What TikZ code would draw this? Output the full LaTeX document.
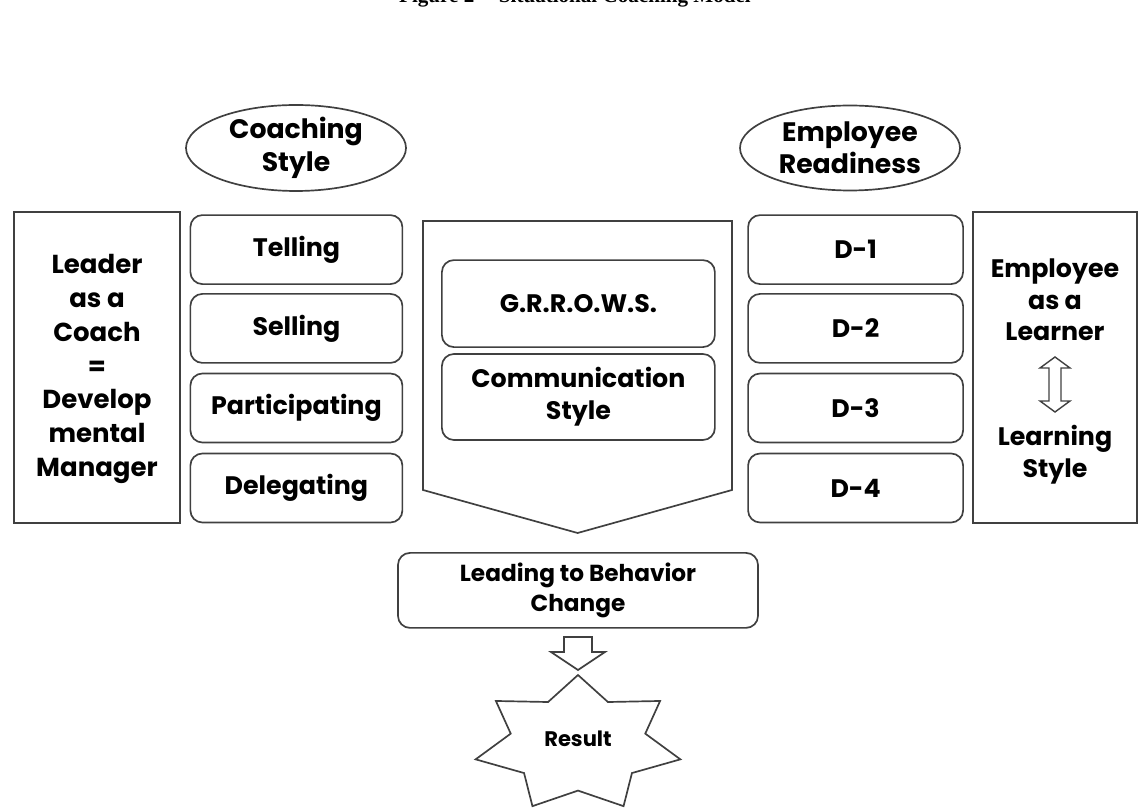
\documentclass[tikz,border=0pt]{standalone}
\usepackage{fontspec}
\newfontfamily\diagfont{Poppins}
\newfontfamily\capfont{Liberation Serif}
\usetikzlibrary{shapes.geometric}

\tikzset{
  outline/.style={draw=black!75, line width=1.2pt},
  boxtext/.style={font=\diagfont\bfseries\fontsize{18}{22.5}\selectfont, align=center},
  sidebox/.style={outline, minimum width=4.15cm, minimum height=7.775cm},
  stepbox/.style={outline, boxtext, rounded corners=0.3cm, minimum width=5.3cm, minimum height=1.725cm},
  tag/.style={outline, boxtext, ellipse, inner sep=0pt, minimum width=5.5cm, minimum height=2.125cm},
}

\begin{document}
\begin{tikzpicture}
  \useasboundingbox (0,0) rectangle (28.45,20.2);
  \clip (0,0) rectangle (28.45,20.2);

  \node[font=\capfont\bfseries\fontsize{15}{18}\selectfont, anchor=base] (title)
    at (14.375,20.14) {Figure 2 -- Situational Coaching Model};

  % headings
  \node[tag, font=\diagfont\bfseries\fontsize{19}{23}\selectfont] (cstyle)
    at (7.4,16.5) {Coaching\\Style};
  \node[tag, font=\diagfont\bfseries\fontsize{19}{23}\selectfont] (ready)
    at (21.25,16.5) {Employee\\Readiness};

  % leader side
  \node[sidebox] (leaderbox) at (2.425,11.01) {};
  \node[boxtext, font=\diagfont\bfseries\fontsize{18.5}{24}\selectfont] (leader)
    at (2.425,10.975) {Leader\\as a\\Coach\\=\\Develop\\mental\\Manager};

  \node[stepbox] (tell) at (7.41,13.96) {Telling};
  \node[stepbox] (sell) at (7.41,11.99) {Selling};
  \node[stepbox] (part) at (7.41,10.0) {Participating};
  \node[stepbox] (dele) at (7.41,8.0) {Delegating};

  % middle block
  \draw[outline] (10.575,14.675) -- (18.3,14.675) -- (18.3,7.95)
    -- (14.44,6.875) -- (10.575,7.95) -- cycle;
  \node[stepbox, minimum width=6.825cm, minimum height=2.175cm] (grrows)
    at (14.46,12.61) {G.R.R.O.W.S.};
  \node[stepbox, minimum width=6.825cm, minimum height=2.15cm] (comm)
    at (14.46,10.275) {Communication\\Style};

  % employee side
  \node[stepbox, minimum width=5.375cm] (d1) at (21.39,13.96) {D-1};
  \node[stepbox, minimum width=5.375cm] (d2) at (21.39,11.99) {D-2};
  \node[stepbox, minimum width=5.375cm] (d3) at (21.39,10.0) {D-3};
  \node[stepbox, minimum width=5.375cm] (d4) at (21.39,8.0) {D-4};

  \node[sidebox, minimum width=4.1cm] (learnbox) at (26.375,11.01) {};
  \node[boxtext] (learner) at (26.375,12.7) {Employee\\as a\\Learner};
  \node[boxtext] (lstyle) at (26.375,8.825) {Learning\\Style};
  \draw[outline, line width=1pt] (26.375,11.275) -- ++(0.375,-0.275) -- ++(-0.225,0)
    -- (26.525,10.175) -- ++(0.225,0) -- (26.375,9.9) -- (26.0,10.175)
    -- ++(0.225,0) -- (26.225,11.0) -- ++(-0.225,0) -- cycle;

  % outcome
  \node[stepbox, minimum width=9.0cm, minimum height=1.875cm,
    font=\diagfont\bfseries\fontsize{16.5}{21.5}\selectfont] (lead)
    at (14.45,5.44) {Leading to Behavior\\Change};
  \draw[outline] (14.1,4.275) -- (14.8,4.275) -- (14.8,3.9) -- (15.125,3.9)
    -- (14.45,3.45) -- (13.775,3.9) -- (14.1,3.9) -- cycle;

  \node[boxtext, font=\diagfont\bfseries\fontsize{15}{18}\selectfont] (result)
    at (14.45,1.72) {Result};
  \draw[outline, shift={(14.45,1.6)}] (90:2.625 and 1.725)
    \foreach \k in {0,...,6} {
      -- ({90+(2*\k+1)*180/7}:1.725 and 1.165)
      -- ({90+(2*\k+2)*180/7}:2.625 and 1.725)
    } -- cycle;
\end{tikzpicture}
\end{document}
